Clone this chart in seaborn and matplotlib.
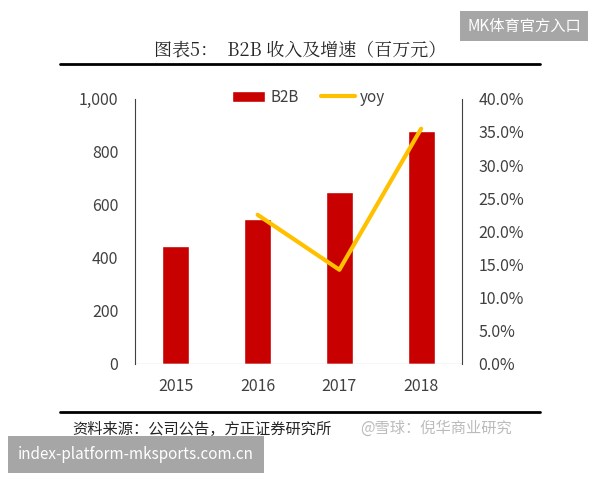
import matplotlib
matplotlib.use("Agg")
import matplotlib.pyplot as plt
import seaborn as sns
import pandas as pd
from matplotlib.ticker import FuncFormatter, PercentFormatter

years = ["2015", "2016", "2017", "2018"]
b2b = [445, 545, 650, 880]
yoy_years = ["2016", "2017", "2018"]
yoy = [22.5, 14.2, 35.5]

sns.set_theme(style="white")
plt.rcParams['font.family'] = ['Noto Sans CJK SC', 'DejaVu Sans']

fig = plt.figure(figsize=(6, 4.8), dpi=100)
ax = fig.add_axes([0.225, 0.242, 0.545, 0.552])
df = pd.DataFrame({"year": years, "B2B": b2b})
sns.barplot(data=df, x="year", y="B2B", color="#C80000", width=0.33, ax=ax, label="B2B", saturation=1)
ax.set_ylim(0, 1000)
ax.set_yticks(range(0, 1001, 200))
ax.yaxis.set_major_formatter(FuncFormatter(lambda v, p: f"{int(v):,}"))
ax.set_xlabel(""); ax.set_ylabel("")
ax.set_xlim(-0.5, 3.5)

ax2 = ax.twinx()
xpos = [years.index(y) for y in yoy_years]
sns.lineplot(x=xpos, y=yoy, color="#FFC000", linewidth=3, ax=ax2, label="yoy")
ax2.set_ylim(0, 40)
ax2.set_yticks(range(0, 41, 5))
ax2.yaxis.set_major_formatter(PercentFormatter(decimals=1))
ax2.set_xlim(-0.5, 3.5)

for a in (ax, ax2):
    for s in ("top", "bottom"):
        a.spines[s].set_visible(False)
    a.tick_params(labelsize=11.5, colors="#404040", length=0)
for s in ("left", "right"):
    ax.spines[s].set_visible(False)
ax2.spines["left"].set_color("#404040"); ax2.spines["right"].set_color("#404040")
ax2.spines["left"].set_linewidth(0.8); ax2.spines["right"].set_linewidth(0.8)
ax.tick_params(axis="x", pad=10)
ax.tick_params(axis="y", pad=12)
ax2.tick_params(axis="y", pad=12)
ax.axhline(0, color="#D9D9D9", lw=1)

h1, l1 = ax.get_legend_handles_labels()
h2, l2 = ax2.get_legend_handles_labels()
if ax2.get_legend(): ax2.get_legend().remove()
ax.legend(h1 + h2, l1 + l2, loc="upper center", bbox_to_anchor=(0.53, 1.09), ncol=2,
          frameon=False, fontsize=11, handlelength=2.2, columnspacing=1.5,
          handletextpad=0.3, labelcolor="#404040")

fig.text(0.5, 0.893, "图表5：  B2B 收入及增速（百万元）", ha="center", va="center",
         fontsize=13, family=['Noto Serif CJK SC', 'Noto Sans CJK SC', 'DejaVu Sans'])
fig.add_artist(plt.Line2D([0.1, 0.9], [0.866, 0.866], color="black", lw=2))
fig.add_artist(plt.Line2D([0.1, 0.9], [0.142, 0.142], color="black", lw=2))
fig.text(0.12, 0.105, "资料来源：公司公告，方正证券研究所", fontsize=11, style="italic", va="center")
fig.text(0.6, 0.108, "@雪球：倪华商业研究", fontsize=11, color="#BBBBBB", va="center")
fig.text(0.968, 0.946, "MK体育官方入口", fontsize=11, color="white", ha="right", va="center",
         bbox=dict(facecolor="#A6A6A6", edgecolor="none", pad=5))
fig.text(0.03, 0.053, "index-platform-mksports.com.cn", fontsize=11, color="white", va="center",
         bbox=dict(facecolor="#A6A6A6", edgecolor="none", pad=7))
fig.savefig("out.png", dpi=100)
